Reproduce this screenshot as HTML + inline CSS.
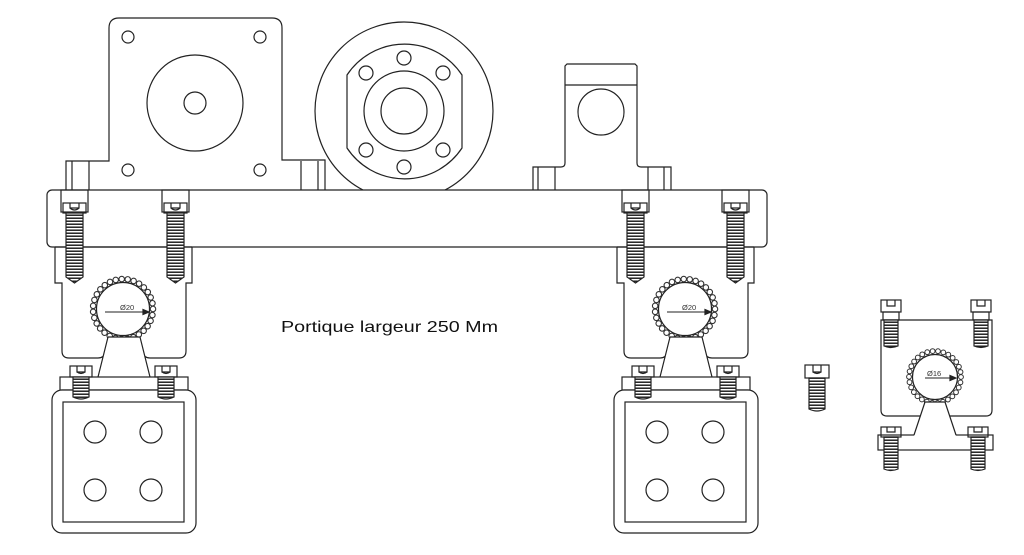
<!DOCTYPE html>
<html><head><meta charset="utf-8"><style>
html,body{margin:0;padding:0;background:#fff;}
svg{display:block;}
</style></head><body>
<svg width="1024" height="555" viewBox="0 0 1024 555" xmlns="http://www.w3.org/2000/svg" fill="none" stroke="#222" stroke-width="1.2">
<defs>
<pattern id="thr" width="4" height="3" patternUnits="userSpaceOnUse">
<rect width="4" height="3" fill="#fff" stroke="none"/>
<line x1="0" y1="1.2" x2="4" y2="1.2" stroke="#111" stroke-width="1.4"/>
</pattern>
<g id="bolt">
<rect x="-13" y="0" width="27" height="22"/>
<rect x="-11" y="13" width="23" height="10"/>
<path d="M-4 13 v5 h9 v-5 M-4 18 q4.5 4 9 0"/>
<path d="M-8 23 h17 v64 l-8.5 6 l-8.5 -6 z" fill="url(#thr)"/>
</g>
<g id="sbolt">
<rect x="-11" y="0" width="22" height="11"/>
<path d="M-4 0 v6 h8 v-6 M-4 6 q4 3 8 0"/>
<path d="M-8 11 h16 v20 q-8 4 -16 0 z" fill="url(#thr)"/>
</g>
<g id="ring">
<circle r="33" fill="#fff" stroke="none"/>
<circle r="30" stroke="#333" stroke-width="6.6" stroke-dasharray="0 6.08" stroke-linecap="round"/>
<circle r="30" stroke="#fff" stroke-width="4.4" stroke-dasharray="0 6.08" stroke-linecap="round"/>
<circle r="26.5"/>
</g>
<g id="clamp">
<path d="M55 247 v36 h7 v68 q0 7 7 7 h29 q6 0 8 -6 l6 -17" fill="#fff"/>
<path d="M192 247 v36 h-6 v68 q0 7 -7 7 h-29 q-6 0 -8 -6 l-6 -17" fill="#fff"/>
<use href="#ring" x="123" y="309"/>
<path d="M108 337 L140 337 L150 377 L98 377 Z" fill="#fff" stroke="none"/>
<path d="M108 337 l-10 40 M140 337 l10 40"/>
<path d="M108 337 H140"/>
<line x1="105" y1="312" x2="148" y2="312" stroke-width="0.9"/>
<path d="M149 312 l-6 -2.5 v5 z" fill="#222"/>
<text x="120" y="310" font-family="Liberation Sans, sans-serif" font-size="7.5" fill="#333" stroke="none">Ø20</text>
<rect x="60" y="377" width="128" height="13" fill="#fff"/>
<rect x="52" y="390" width="144" height="143" rx="10" fill="#fff"/>
<rect x="63" y="402" width="121" height="120"/>
<circle cx="95" cy="432" r="11"/><circle cx="151" cy="432" r="11"/>
<circle cx="95" cy="490" r="11"/><circle cx="151" cy="490" r="11"/>
<use href="#sbolt" x="81" y="366"/>
<use href="#sbolt" x="166" y="366"/>
</g>
</defs>

<!-- motor plate -->
<path d="M66 190 V161 H109 V28 q0 -10 10 -10 H272 q10 0 10 10 V160 H325 V190" fill="#fff"/>
<line x1="89" y1="161" x2="89" y2="190"/><line x1="72" y1="161" x2="72" y2="190"/>
<line x1="301" y1="161" x2="301" y2="190"/><line x1="318" y1="161" x2="318" y2="190"/>
<circle cx="128" cy="37" r="6"/><circle cx="260" cy="37" r="6"/>
<circle cx="128" cy="170" r="6"/><circle cx="260" cy="170" r="6"/>
<circle cx="195" cy="103" r="48"/><circle cx="195" cy="103" r="11"/>

<!-- pulley -->
<circle cx="404" cy="111" r="89" fill="#fff"/>
<path d="M347 75 A69 69 0 0 1 462 75 V148 A69 69 0 0 1 347 148 Z"/>
<circle cx="404" cy="111" r="40"/>
<circle cx="404" cy="111" r="23"/>
<circle cx="404" cy="58" r="7"/><circle cx="366" cy="73" r="7"/><circle cx="443" cy="73" r="7"/>
<circle cx="366" cy="150" r="7"/><circle cx="443" cy="150" r="7"/><circle cx="404" cy="167" r="7"/>

<!-- right bracket -->
<path d="M533 190 V167 H561 q4 0 4 -4 V66 l2 -2 H635 l2 2 V163 q0 4 4 4 H671 V190" fill="#fff"/>
<line x1="565" y1="85" x2="637" y2="85"/>
<line x1="538" y1="167" x2="538" y2="190"/><line x1="555" y1="167" x2="555" y2="190"/>
<line x1="648" y1="167" x2="648" y2="190"/><line x1="664" y1="167" x2="664" y2="190"/>
<circle cx="601" cy="112" r="23"/>

<!-- beam -->
<rect x="47" y="190" width="720" height="57" rx="5" fill="#fff"/>

<use href="#clamp"/>
<use href="#clamp" x="562"/>
<line x1="55" y1="247" x2="192" y2="247"/>
<line x1="617" y1="247" x2="754" y2="247"/>

<use href="#bolt" x="74" y="190"/>
<use href="#bolt" x="175" y="190"/>
<use href="#bolt" x="635" y="190"/>
<use href="#bolt" x="735" y="190"/>

<text x="281" y="332" font-family="Liberation Sans, Arial, sans-serif" font-size="16" fill="#111" stroke="none" textLength="217" lengthAdjust="spacingAndGlyphs">Portique largeur 250 Mm</text>

<!-- loose bolt -->
<g transform="translate(817,365)">
<rect x="-12" y="0" width="24" height="13"/>
<path d="M-4 0 v7 h8 v-7 M-4 7 q4 3 8 0"/>
<path d="M-8 13 h16 v31 q-8 4 -16 0 z" fill="url(#thr)"/>
</g>

<!-- right small clamp -->
<path d="M881 320 H992 V410 q0 6 -6 6 H887 q-6 0 -6 -6 Z" fill="#fff"/>
<rect x="878" y="435" width="115" height="15" fill="#fff"/>
<g transform="translate(935,377)">
<circle r="29" fill="#fff" stroke="none"/>
<circle r="26" stroke="#333" stroke-width="5.8" stroke-dasharray="0 5.45" stroke-linecap="round"/>
<circle r="26" stroke="#fff" stroke-width="3.8" stroke-dasharray="0 5.45" stroke-linecap="round"/>
<circle r="22.5"/>
<line x1="-10" y1="1" x2="20" y2="1" stroke-width="0.9"/>
<path d="M21 1 l-6 -2.5 v5 z" fill="#222"/>
<text x="-8" y="-1" font-family="Liberation Sans, sans-serif" font-size="7.5" fill="#333" stroke="none">Ø16</text>
</g>
<path d="M925 402 L945 402 L956 436 L914 436 Z" fill="#fff" stroke="none"/>
<path d="M925 402 L914 435 M945 402 L956 435 M925 402 H945"/>
<g transform="translate(891,300)">
<rect x="-10" y="0" width="20" height="12"/><path d="M-4 0 v6 h8 v-6"/>
<rect x="-8" y="12" width="16" height="8"/>
<path d="M-7 20 h14 v26 q-7 3 -14 0 z" fill="url(#thr)"/>
</g>
<g transform="translate(981,300)">
<rect x="-10" y="0" width="20" height="12"/><path d="M-4 0 v6 h8 v-6"/>
<rect x="-8" y="12" width="16" height="8"/>
<path d="M-7 20 h14 v26 q-7 3 -14 0 z" fill="url(#thr)"/>
</g>
<g transform="translate(891,427)">
<rect x="-10" y="0" width="20" height="10"/><path d="M-4 0 v5 h8 v-5"/>
<path d="M-7 10 h14 v32 q-7 3 -14 0 z" fill="url(#thr)"/>
</g>
<g transform="translate(978,427)">
<rect x="-10" y="0" width="20" height="10"/><path d="M-4 0 v5 h8 v-5"/>
<path d="M-7 10 h14 v32 q-7 3 -14 0 z" fill="url(#thr)"/>
</g>
</svg>
</body></html>
